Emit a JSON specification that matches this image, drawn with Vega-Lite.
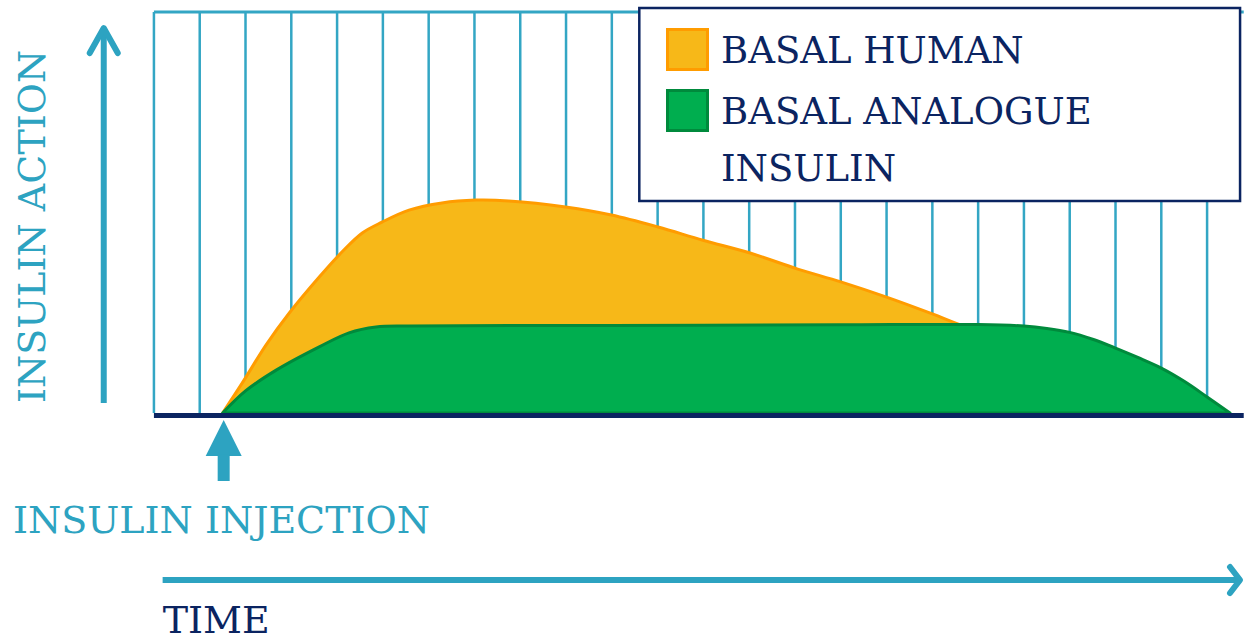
{
  "$schema": "https://vega.github.io/schema/vega-lite/v6.json",
  "width": 1247,
  "height": 641,
  "autosize": {"type": "fit", "contains": "padding"},
  "padding": 0,
  "background": "white",
  "config": {"view": {"stroke": null}},
  "data": {"values": [
      {"series": "BASAL HUMAN", "t": 1.5, "action": 0},
      {"series": "BASAL HUMAN", "t": 1.93, "action": 7.5},
      {"series": "BASAL HUMAN", "t": 2.45, "action": 17.0},
      {"series": "BASAL HUMAN", "t": 2.96, "action": 25.0},
      {"series": "BASAL HUMAN", "t": 3.61, "action": 33.9},
      {"series": "BASAL HUMAN", "t": 4.11, "action": 40.2},
      {"series": "BASAL HUMAN", "t": 4.55, "action": 44.9},
      {"series": "BASAL HUMAN", "t": 4.98, "action": 47.6},
      {"series": "BASAL HUMAN", "t": 5.57, "action": 50.6},
      {"series": "BASAL HUMAN", "t": 6.29, "action": 52.4},
      {"series": "BASAL HUMAN", "t": 7.03, "action": 53.1},
      {"series": "BASAL HUMAN", "t": 7.75, "action": 52.9},
      {"series": "BASAL HUMAN", "t": 8.99, "action": 51.4},
      {"series": "BASAL HUMAN", "t": 9.99, "action": 49.4},
      {"series": "BASAL HUMAN", "t": 11.01, "action": 46.4},
      {"series": "BASAL HUMAN", "t": 11.99, "action": 43.1},
      {"series": "BASAL HUMAN", "t": 13.02, "action": 39.9},
      {"series": "BASAL HUMAN", "t": 14.06, "action": 35.9},
      {"series": "BASAL HUMAN", "t": 15.0, "action": 32.7},
      {"series": "BASAL HUMAN", "t": 16.0, "action": 28.9},
      {"series": "BASAL HUMAN", "t": 17.0, "action": 24.7},
      {"series": "BASAL HUMAN", "t": 17.51, "action": 22.4},
      {"series": "BASAL HUMAN", "t": 18.5, "action": 18.5},
      {"series": "BASAL HUMAN", "t": 19.5, "action": 14.5},
      {"series": "BASAL HUMAN", "t": 20.5, "action": 9.0},
      {"series": "BASAL HUMAN", "t": 21.5, "action": 0},
      {"series": "BASAL ANALOGUE INSULIN", "t": 1.5, "action": 0},
      {"series": "BASAL ANALOGUE INSULIN", "t": 2.0, "action": 5.5},
      {"series": "BASAL ANALOGUE INSULIN", "t": 2.67, "action": 10.7},
      {"series": "BASAL ANALOGUE INSULIN", "t": 3.61, "action": 16.5},
      {"series": "BASAL ANALOGUE INSULIN", "t": 4.26, "action": 20.0},
      {"series": "BASAL ANALOGUE INSULIN", "t": 4.85, "action": 21.45},
      {"series": "BASAL ANALOGUE INSULIN", "t": 5.57, "action": 21.7},
      {"series": "BASAL ANALOGUE INSULIN", "t": 10.0, "action": 21.85},
      {"series": "BASAL ANALOGUE INSULIN", "t": 15.0, "action": 22.0},
      {"series": "BASAL ANALOGUE INSULIN", "t": 18.0, "action": 22.05},
      {"series": "BASAL ANALOGUE INSULIN", "t": 19.0, "action": 21.7},
      {"series": "BASAL ANALOGUE INSULIN", "t": 19.5, "action": 21.1},
      {"series": "BASAL ANALOGUE INSULIN", "t": 20.0, "action": 20.1},
      {"series": "BASAL ANALOGUE INSULIN", "t": 20.5, "action": 18.4},
      {"series": "BASAL ANALOGUE INSULIN", "t": 21.0, "action": 16.2},
      {"series": "BASAL ANALOGUE INSULIN", "t": 21.5, "action": 13.8},
      {"series": "BASAL ANALOGUE INSULIN", "t": 22.0, "action": 11.2},
      {"series": "BASAL ANALOGUE INSULIN", "t": 22.5, "action": 7.9},
      {"series": "BASAL ANALOGUE INSULIN", "t": 23.0, "action": 4.0},
      {"series": "BASAL ANALOGUE INSULIN", "t": 23.5, "action": 0}
  ]},
  "layer": [
    {
      "data": {"values": [
        {"hour": 0}, {"hour": 1}, {"hour": 2}, {"hour": 3}, {"hour": 4}, {"hour": 5},
        {"hour": 6}, {"hour": 7}, {"hour": 8}, {"hour": 9}, {"hour": 10}, {"hour": 11},
        {"hour": 12}, {"hour": 13}, {"hour": 14}, {"hour": 15}, {"hour": 16}, {"hour": 17},
        {"hour": 18}, {"hour": 19}, {"hour": 20}, {"hour": 21}, {"hour": 22}, {"hour": 23}
      ]},
      "mark": {"type": "rule", "color": "#33A6C4", "strokeWidth": 2.5},
      "encoding": {
        "x": {"field": "hour", "type": "quantitative", "scale": {"domain": [-3.3617, 23.806], "nice": false, "zero": false}, "axis": null},
        "y": {"datum": 0, "type": "quantitative", "scale": {"domain": [-56.86, 103.0], "nice": false, "zero": false}, "axis": null},
        "y2": {"datum": 100}
      }
    },
    {
      "data": {"values": [{"a": 1}]},
      "mark": {"type": "rule", "color": "#33A6C4", "strokeWidth": 3},
      "encoding": {
        "x": {"datum": 0, "type": "quantitative", "scale": {"domain": [-3.3617, 23.806], "nice": false, "zero": false}, "axis": null},
        "x2": {"datum": 23.8},
        "y": {"datum": 100, "type": "quantitative", "scale": {"domain": [-56.86, 103.0], "nice": false, "zero": false}, "axis": null}
      }
    },
    {
      "mark": {"type": "area", "interpolate": "catmull-rom", "opacity": 1, "strokeWidth": 3, "strokeJoin": "round"},
      "encoding": {
        "x": {"field": "t", "type": "quantitative", "scale": {"domain": [-3.3617, 23.806], "nice": false, "zero": false}, "axis": null},
        "y": {"field": "action", "type": "quantitative", "stack": null, "scale": {"domain": [-56.86, 103.0], "nice": false, "zero": false}, "axis": null},
        "y2": {"datum": 0},
        "fill": {"field": "series", "type": "nominal",
          "scale": {"domain": ["BASAL HUMAN", "BASAL ANALOGUE INSULIN"], "range": ["#F7B818", "#00AE4F"]},
          "legend": {"title": null, "orient": "none", "legendX": 666, "legendY": 28, "symbolType": "square", "symbolSize": 1600, "symbolStrokeWidth": 3, "symbolOpacity": 1, "labelFont": "DejaVu Serif", "labelFontSize": 37, "labelColor": "#0B2461", "labelOffset": 12, "rowPadding": 8, "labelLimit": 800,
            "labelExpr": "datum.label == 'BASAL ANALOGUE INSULIN' ? ['BASAL ANALOGUE', 'INSULIN'] : datum.label",
            "encode": {"labels": {"update": {"lineHeight": {"value": 57}, "dy": {"value": 2}}}}}},
        "stroke": {"field": "series", "type": "nominal",
          "scale": {"domain": ["BASAL HUMAN", "BASAL ANALOGUE INSULIN"], "range": ["#FF9C00", "#008A3C"]},
          "legend": {"title": null, "orient": "none", "legendX": 666, "legendY": 28, "symbolType": "square", "symbolSize": 1600, "symbolStrokeWidth": 3, "symbolOpacity": 1, "labelFont": "DejaVu Serif", "labelFontSize": 37, "labelColor": "#0B2461", "labelOffset": 12, "rowPadding": 8, "labelLimit": 800,
            "labelExpr": "datum.label == 'BASAL ANALOGUE INSULIN' ? ['BASAL ANALOGUE', 'INSULIN'] : datum.label",
            "encode": {"labels": {"update": {"lineHeight": {"value": 57}, "dy": {"value": 2}}}}}}
      }
    },
    {
      "data": {"values": [{"a": 1}]},
      "mark": {"type": "rule", "color": "#0B2461", "strokeWidth": 5},
      "encoding": {
        "x": {"datum": 0, "type": "quantitative", "scale": {"domain": [-3.3617, 23.806], "nice": false, "zero": false}, "axis": null},
        "x2": {"datum": 23.8},
        "y": {"datum": -0.62, "type": "quantitative", "scale": {"domain": [-56.86, 103.0], "nice": false, "zero": false}, "axis": null}
      }
    },
    {
      "data": {"values": [{"a": 1}]},
      "mark": {"type": "rect", "fill": "white", "stroke": "#0B2461", "strokeWidth": 2.5},
      "encoding": {
        "x": {"datum": 10.6, "type": "quantitative", "scale": {"domain": [-3.3617, 23.806], "nice": false, "zero": false}, "axis": null},
        "x2": {"datum": 23.72},
        "y": {"datum": 101.0, "type": "quantitative", "scale": {"domain": [-56.86, 103.0], "nice": false, "zero": false}, "axis": null},
        "y2": {"datum": 52.87}
      }
    },
    {
      "data": {"values": [{"a": 1}]},
      "mark": {"type": "rule", "color": "#2DA3C1", "strokeWidth": 6, "strokeCap": "butt"},
      "encoding": {
        "x": {"datum": -1.096, "type": "quantitative", "scale": {"domain": [-3.3617, 23.806], "nice": false, "zero": false}, "axis": null},
        "y": {"datum": 2.49, "type": "quantitative", "scale": {"domain": [-56.86, 103.0], "nice": false, "zero": false}, "axis": null},
        "y2": {"datum": 95.5}
      }
    },
    {
      "data": {"values": [{"a": 1}]},
      "mark": {"type": "point", "shape": "M-1,0.893L0,-0.893L1,0.893", "filled": false, "size": 784, "color": "#2DA3C1", "opacity": 1, "strokeWidth": 6, "strokeCap": "round", "strokeJoin": "round"},
      "encoding": {
        "x": {"datum": -1.096, "type": "quantitative", "scale": {"domain": [-3.3617, 23.806], "nice": false, "zero": false}, "axis": null},
        "y": {"datum": 92.89, "type": "quantitative", "scale": {"domain": [-56.86, 103.0], "nice": false, "zero": false}, "axis": null}
      }
    },
    {
      "data": {"values": [{"a": 1}]},
      "mark": {"type": "rule", "color": "#2DA3C1", "strokeWidth": 6, "strokeCap": "butt"},
      "encoding": {
        "x": {"datum": 0.19, "type": "quantitative", "scale": {"domain": [-3.3617, 23.806], "nice": false, "zero": false}, "axis": null},
        "x2": {"datum": 23.7},
        "y": {"datum": -41.65, "type": "quantitative", "scale": {"domain": [-56.86, 103.0], "nice": false, "zero": false}, "axis": null}
      }
    },
    {
      "data": {"values": [{"a": 1}]},
      "mark": {"type": "point", "shape": "M-0.385,-1L0.385,0L-0.385,1", "filled": false, "size": 676, "color": "#2DA3C1", "opacity": 1, "strokeWidth": 6, "strokeCap": "round", "strokeJoin": "round"},
      "encoding": {
        "x": {"datum": 23.61, "type": "quantitative", "scale": {"domain": [-3.3617, 23.806], "nice": false, "zero": false}, "axis": null},
        "y": {"datum": -41.65, "type": "quantitative", "scale": {"domain": [-56.86, 103.0], "nice": false, "zero": false}, "axis": null}
      }
    },
    {
      "data": {"values": [{"a": 1}]},
      "mark": {"type": "point", "shape": "M0,-1L1,1L-1,1Z", "filled": true, "size": 1296, "color": "#2DA3C1", "opacity": 1, "strokeWidth": 0},
      "encoding": {
        "x": {"datum": 1.523, "type": "quantitative", "scale": {"domain": [-3.3617, 23.806], "nice": false, "zero": false}, "axis": null},
        "y": {"datum": -6.23, "type": "quantitative", "scale": {"domain": [-56.86, 103.0], "nice": false, "zero": false}, "axis": null}
      }
    },
    {
      "data": {"values": [{"a": 1}]},
      "mark": {"type": "rule", "color": "#2DA3C1", "strokeWidth": 12, "strokeCap": "butt"},
      "encoding": {
        "x": {"datum": 1.523, "type": "quantitative", "scale": {"domain": [-3.3617, 23.806], "nice": false, "zero": false}, "axis": null},
        "y": {"datum": -10.3, "type": "quantitative", "scale": {"domain": [-56.86, 103.0], "nice": false, "zero": false}, "axis": null},
        "y2": {"datum": -16.96}
      }
    },
    {
      "data": {"values": [{"a": 1}]},
      "mark": {"type": "text", "text": "INSULIN ACTION", "angle": 270, "align": "left", "baseline": "alphabetic", "font": "DejaVu Serif", "fontSize": 38, "color": "#2DA3C1"},
      "encoding": {
        "x": {"datum": -2.381, "type": "quantitative", "scale": {"domain": [-3.3617, 23.806], "nice": false, "zero": false}, "axis": null},
        "y": {"datum": 2.49, "type": "quantitative", "scale": {"domain": [-56.86, 103.0], "nice": false, "zero": false}, "axis": null}
      }
    },
    {
      "data": {"values": [{"a": 1}]},
      "mark": {"type": "text", "text": "INSULIN INJECTION", "align": "left", "baseline": "alphabetic", "font": "DejaVu Serif", "fontSize": 38, "color": "#2DA3C1"},
      "encoding": {
        "x": {"datum": -3.078, "type": "quantitative", "scale": {"domain": [-3.3617, 23.806], "nice": false, "zero": false}, "axis": null},
        "y": {"datum": -29.93, "type": "quantitative", "scale": {"domain": [-56.86, 103.0], "nice": false, "zero": false}, "axis": null}
      }
    },
    {
      "data": {"values": [{"a": 1}]},
      "mark": {"type": "text", "text": "TIME", "align": "left", "baseline": "alphabetic", "font": "DejaVu Serif", "fontSize": 38, "color": "#0B2461"},
      "encoding": {
        "x": {"datum": 0.19, "type": "quantitative", "scale": {"domain": [-3.3617, 23.806], "nice": false, "zero": false}, "axis": null},
        "y": {"datum": -54.86, "type": "quantitative", "scale": {"domain": [-56.86, 103.0], "nice": false, "zero": false}, "axis": null}
      }
    }
  ]
}
